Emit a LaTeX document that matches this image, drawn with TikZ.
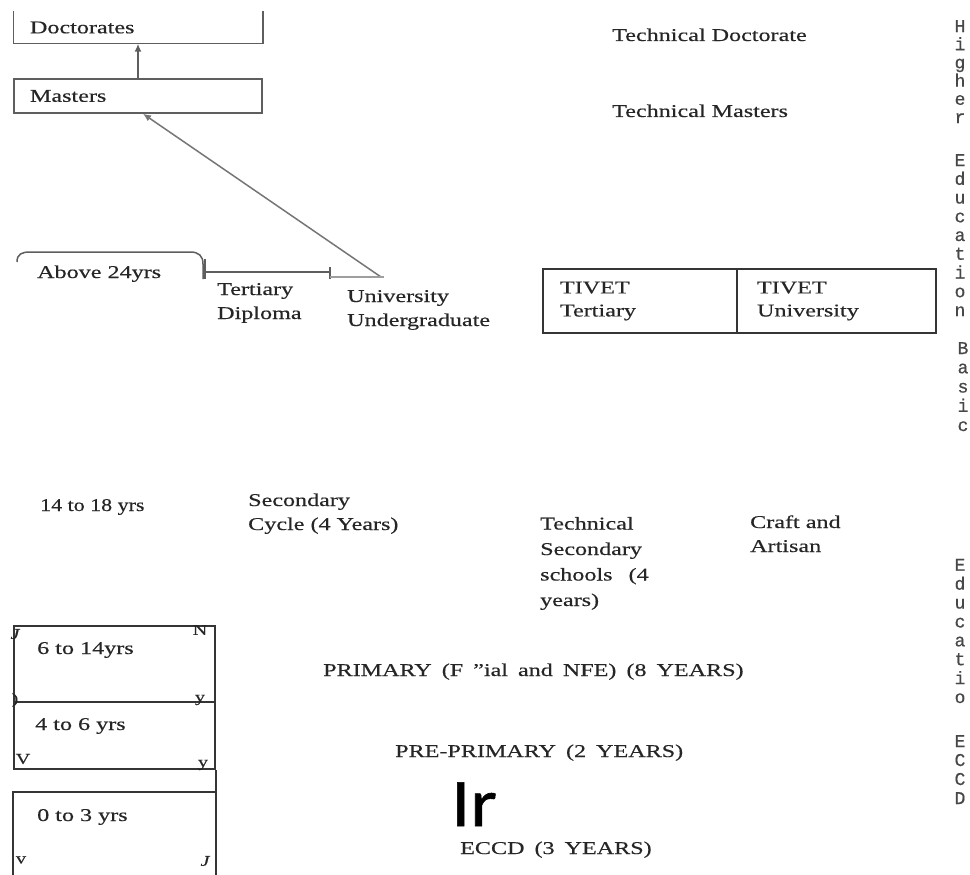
\documentclass[tikz,border=0pt]{standalone}
\usepackage{fontspec}
\setmainfont{Liberation Serif}[FakeStretch=1.34,FakeBold=0.35]
\newfontfamily\narrowf{Liberation Serif}[FakeStretch=1.22,FakeBold=0.35]
\newfontfamily\monof{Liberation Mono}[FakeBold=0.6]
\newfontfamily\sansf{Carlito}[FakeStretch=1.12,FakeBold=0.8]
\usetikzlibrary{arrows.meta}
\definecolor{txt}{HTML}{262626}
\definecolor{gline}{HTML}{5E5E5E}
\definecolor{dline}{HTML}{353535}
\begin{document}
\begin{tikzpicture}[x=1pt,y=-1pt,
  lbl/.style={font=\fontsize{18}{24}\selectfont, text=txt, inner sep=0pt, anchor=base west, align=left},
  hbox/.style={draw=gline, line width=1.5pt, minimum width=248pt, inner xsep=16pt, text width=216pt, align=left, font=\fontsize{18}{24}\selectfont, text=txt, inner ysep=0pt},
  tbox/.style={draw=dline, line width=1.8pt, minimum height=64pt, align=left, font=\fontsize{18}{23}\selectfont, text=txt, inner ysep=0pt},
  abox/.style={draw=dline, line width=1.8pt, minimum width=201pt, inner sep=0pt},
  stray/.style={font=\fontsize{15}{15}\selectfont, text=txt, inner sep=0pt},
  vword/.style={text=txt!85, inner sep=0pt, anchor=base, align=center},
  arr/.style={-{Latex[length=8pt,width=7pt]}, draw=gline, line width=1.5pt}]
\fill[white] (0,0) rectangle (970,875);
\useasboundingbox (0,0) rectangle (970,875);

% higher education (left)
\node[hbox, draw=none, minimum height=31pt] (doct) at (138,27.5) {Doctorates};
\draw[gline, line width=1.5pt] (doct.north west) -- (doct.south west) -- (doct.south east) -- (doct.north east);
\node[hbox, minimum height=34pt] (mast) at (138,96) {Masters};
\draw[arr] (mast.north) -- (doct.south);
\coordinate (uu) at (381,277);
\draw[arr, draw=gline!85] (uu) -- ([xshift=5pt]mast.south);

\node[lbl] (tdoc) at (612,41) {Technical Doctorate};
\node[lbl] (tmas) at (612,117) {Technical Masters};

\node[lbl] (a24) at (37,278) {Above 24yrs};
\node[lbl] (tdip) at (217,319) {Tertiary\\Diploma};
\node[lbl] (univ) at (347,326) {University\\Undergraduate};
\draw[gline, line width=1.5pt] (17,262) .. controls (17,254) and (22,252) .. (30,252) -- (190,252) .. controls (199,252) and (203,256) .. (203,264) -- (203,279);
\draw[gline, line width=1.5pt] (205,259) -- (205,279) (205,272) -- (330,272) (330,267) -- (330,279);
\draw[gline!60, line width=1.2pt] (330,277) -- (uu) -- (384,277);

\node[tbox, minimum width=194pt, text width=160pt, inner xsep=17pt] (tt) at (640,301) {TIVET\\Tertiary};
\node[tbox, minimum width=199pt, text width=159pt, inner xsep=20pt] (tu) at (836.5,301) {TIVET\\University};

% basic education
\node[lbl, font=\narrowf\fontsize{18}{24}\selectfont] (age14) at (40,511) {14 to 18 yrs};
\node[lbl] (sec) at (248,530) {Secondary\\Cycle (4 Years)};
\node[lbl, font=\fontsize{18}{25.5}\selectfont] (tech) at (540,606) {Technical\\Secondary\\schools\hspace{16pt}(4\\years)};
\node[lbl] (craft) at (750,552) {Craft and\\Artisan};

\node[abox, minimum height=76pt] (b1) at (114.5,664) {};
\node[abox, minimum height=67pt] (b2) at (114.5,735.5) {};
\node[abox, draw=none, minimum height=82pt] (b3) at (114.5,834) {};
\draw[dline, line width=1.8pt] (b3.south west) -- (b3.north west) -- (b3.north east) -- (b3.south east);
\draw[dline, line width=1.8pt] (b2.south east) -- (b3.north east);

\node[lbl] (l1) at (37,654) {6 to 14yrs};
\node[lbl] (l2) at (35,730) {4 to 6 yrs};
\node[lbl] (l3) at (37,821) {0 to 3 yrs};

\node[stray] (s1) at (15,634) {\itshape J};
\node[stray] (s2) at (200,630) {N};
\node[stray] (s3) at (15,700) {)};
\node[stray] (s4) at (200,700) {y};
\node[stray] (s5) at (23,759) {V};
\node[stray] (s6) at (203,765) {y};
\node[stray] (s7) at (21,860) {v};
\node[stray] (s8) at (205,861) {\itshape J};

\node[lbl] (prim) at (323,676) {\spaceskip=10pt PRIMARY (F "ial and NFE) (8 YEARS)};
\node[lbl] (pre) at (395,757) {\spaceskip=10pt PRE-PRIMARY (2 YEARS)};
\node[inner sep=0pt, anchor=base west, font=\sansf\fontsize{68}{68}\selectfont, text=black] (ir) at (451,826) {Ir};
\node[lbl] (eccd) at (460,854) {\spaceskip=10pt ECCD (3 YEARS)};

% vertical side labels (one letter per line)
\node[vword, font=\monof\fontsize{18}{18.2}\selectfont] (vhigh) at (960,123) {H\\i\\g\\h\\e\\r};
\node[vword, font=\monof\fontsize{18}{18.75}\selectfont] (vedu1) at (960,316) {E\\d\\u\\c\\a\\t\\i\\o\\n};
\node[vword, font=\monof\fontsize{18}{19.25}\selectfont] (vbasic) at (963,431) {B\\a\\s\\i\\c};
\node[vword, font=\monof\fontsize{18}{18.9}\selectfont] (vedu2) at (960,703) {E\\d\\u\\c\\a\\t\\i\\o};
\node[vword, font=\monof\fontsize{18}{19}\selectfont] (veccd) at (960,804) {E\\C\\C\\D};
\end{tikzpicture}
\end{document}
